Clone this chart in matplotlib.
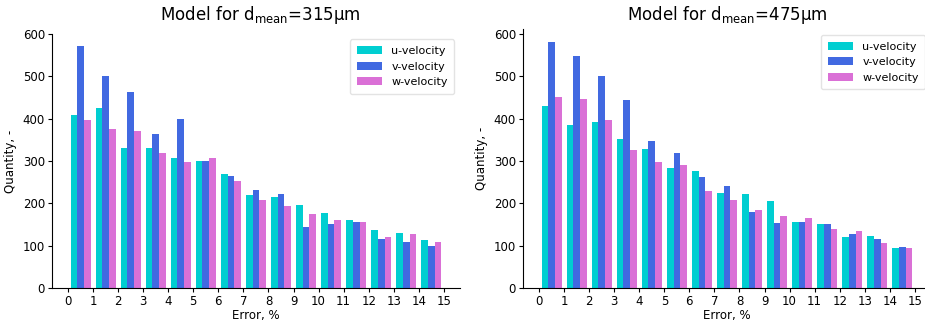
import numpy as np
import matplotlib
matplotlib.use("Agg")
import matplotlib.pyplot as plt

# Error bins (%) and counts per velocity component
bins = list(range(16))
labels = ["u-velocity", "v-velocity", "w-velocity"]
colors = ["darkturquoise", "royalblue", "orchid"]

u_315 = [410, 426, 331, 331, 307, 300, 270, 219, 215, 197, 178, 161, 138, 129, 113]
v_315 = [572, 502, 464, 364, 400, 300, 265, 232, 221, 145, 151, 156, 116, 109, 99]
w_315 = [396, 377, 371, 318, 297, 307, 252, 207, 193, 174, 161, 156, 120, 128, 109]

u_475 = [429, 386, 392, 351, 328, 283, 276, 225, 223, 206, 156, 152, 120, 123, 95]
v_475 = [582, 548, 500, 444, 348, 319, 263, 240, 179, 153, 156, 150, 127, 116, 97]
w_475 = [452, 447, 396, 325, 297, 290, 230, 209, 185, 170, 165, 140, 134, 107, 94]

titles = [r"Model for d$_{\mathregular{mean}}$=315μm", r"Model for d$_{\mathregular{mean}}$=475μm"]


def draw_panel(fig, ax, series, title, xc):
    left = np.array(bins[:-1], dtype=float)
    w = 0.8 / len(series)
    for k, (vals, lab, col) in enumerate(zip(series, labels, colors)):
        ax.bar(left + 0.1 + k * w, vals, w, align="edge", color=col, label=lab)
    ax.set_xticks(bins)
    ax.set_yticks(range(0, 601, 100))
    ax.set_xlabel("Error, %", fontsize=8.5, labelpad=1)
    ax.set_ylabel("Quantity, -", fontsize=8.5, labelpad=4)
    ax.tick_params(labelsize=8.5, length=3, pad=2)
    ax.spines["top"].set_visible(False)
    ax.spines["right"].set_visible(False)
    ax.legend(loc="upper right", fontsize=8, frameon=True, edgecolor="#dddddd",
              handlelength=2.3, borderpad=0.6, labelspacing=0.5)
    # same title height for both panels
    fig.text(xc, 0.955, title, ha="center", va="center", fontsize=12)


fig = plt.figure(figsize=(9.25, 3.27), dpi=100)
ax1 = fig.add_axes([0.0562, 0.1193, 0.441, 0.777])
ax2 = fig.add_axes([0.5654, 0.1193, 0.441, 0.791])

draw_panel(fig, ax1, [u_315, v_315, w_315], titles[0], 0.2815)
draw_panel(fig, ax2, [u_475, v_475, w_475], titles[1], 0.786)

fig.savefig("out.png", dpi=100)
